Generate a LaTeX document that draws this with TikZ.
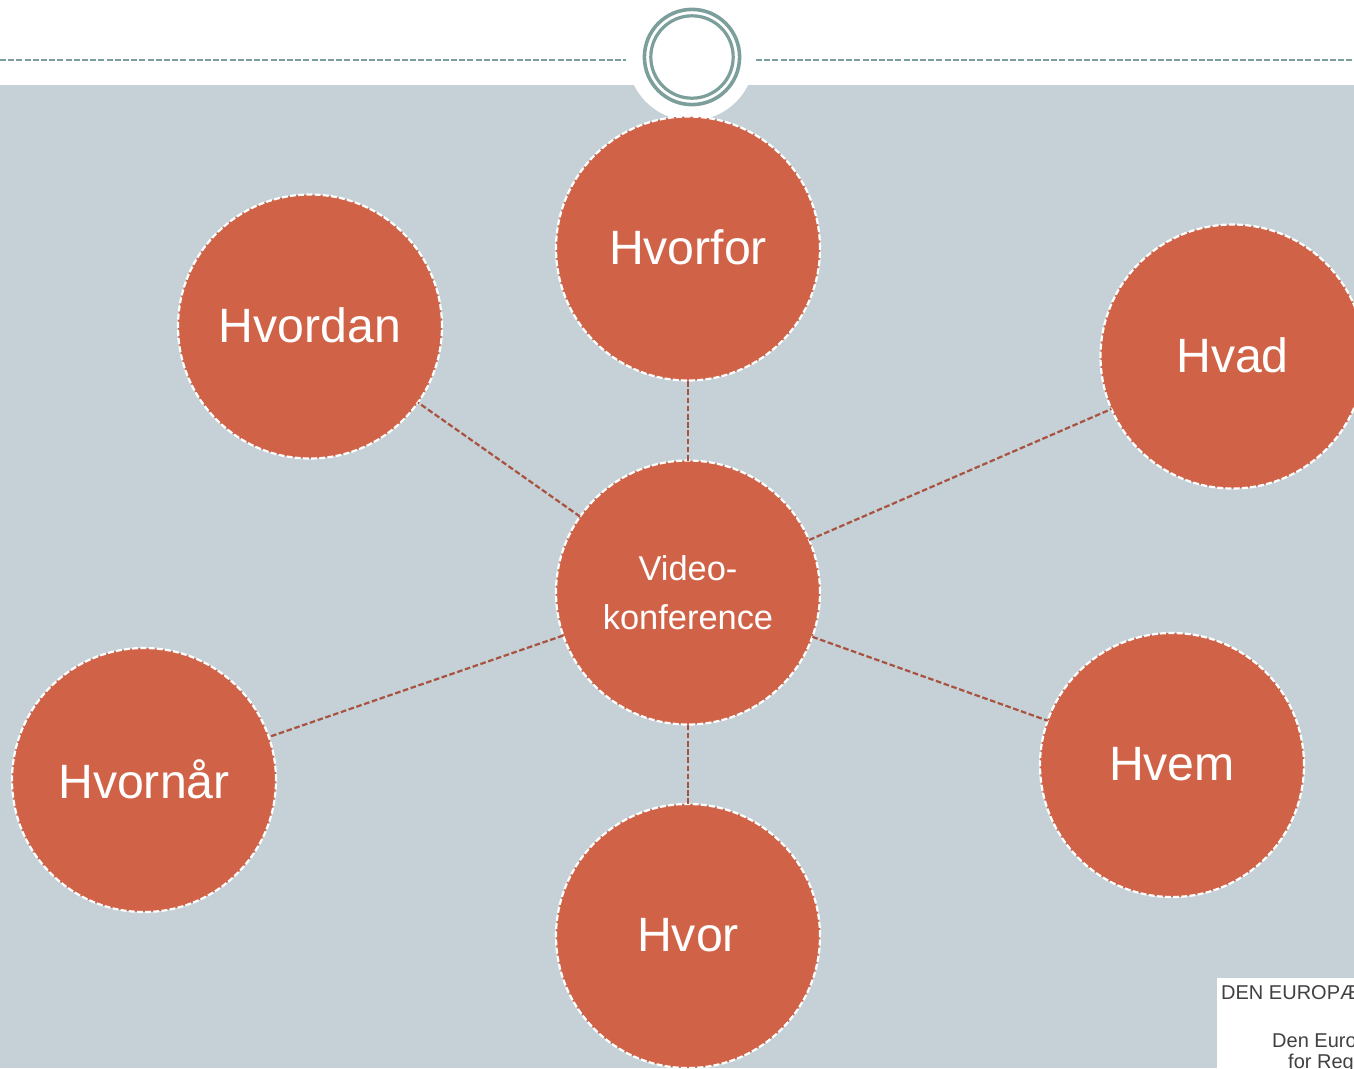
\documentclass[tikz,border=0pt]{standalone}
\usepackage{fontspec}
\setmainfont{Liberation Sans}
\usetikzlibrary{positioning}

\definecolor{bandgray}{HTML}{C5D1D7}
\definecolor{bubblered}{HTML}{D06347}
\definecolor{spokered}{HTML}{A9523F}
\definecolor{ringteal}{HTML}{7C9F9C}

\begin{document}
\begin{tikzpicture}[x=1pt, y=-1pt,
	bubble/.style={circle, draw=white, dash pattern=on 6pt off 2.2pt, line width=2.2pt, fill=bubblered, text=white,
		minimum size=264pt, inner sep=0pt, outer sep=0pt, text depth=2pt, font=\fontsize{48.2}{48}\selectfont},
	spoke/.style={draw=spokered, dash pattern=on 5.6pt off 2.6pt, line width=2.2pt},
	headrule/.style={draw=ringteal, dash pattern=on 6pt off 2.2pt, line width=1.8pt},
	logotext/.style={anchor=base west, inner sep=0pt, text=black!75, font=\fontsize{20}{20}\selectfont}]
	
	\useasboundingbox (0,0) rectangle (1354,1068);
	
	% background band and header
	\fill[white] (0,0) rectangle (1354,1068);
	\fill[bandgray] (0,85) rectangle (1354,1068);
	\fill[white] (691,57) circle (63.5);
	\coordinate (ruleLeftA) at (0,60);
	\coordinate (ruleLeftB) at (626,60);
	\coordinate (ruleRightA) at (756,60);
	\coordinate (ruleRightB) at (1354,60);
	\draw[headrule] (ruleLeftA) -- (ruleLeftB);
	\draw[headrule] (ruleRightA) -- (ruleRightB);
	
	% ring on top
	\draw[ringteal, line width=3.6pt] (692,57) circle (47.6);
	\draw[ringteal, line width=3.2pt] (692,57) circle (41.2);
	
	% logo corner
	\fill[white] (1217,978) rectangle (1354,1068);
	\node[logotext] (logoA) at (1221,999) {DEN EUROPÆ};
	\node[logotext] (logoB) at (1272,1047) {Den Euro};
	\node[logotext] (logoC) at (1288,1068) {for Regi};
	
	% bubbles
	\node[bubble, text depth=, font=\fontsize{34.4}{49}\selectfont, align=center] (center) at (688,592.5) {Video-\\konference};
	\node[bubble] (hvorfor) at (688,248.5) {Hvorfor};
	\node[bubble] (hvordan) at (310,326.5) {Hvordan};
	\node[bubble] (hvad) at (1232.5,356.5) {Hvad};
	\node[bubble] (hvornaar) at (144,780) {Hvornår};
	\node[bubble] (hvem) at (1172,765) {Hvem};
	\node[bubble] (hvor) at (688,936) {Hvor};
	
	% spokes
	\foreach \other in {hvorfor,hvordan,hvad,hvornaar,hvem,hvor}
		\draw[spoke] (center) -- (\other);
	
\end{tikzpicture}
\end{document}
